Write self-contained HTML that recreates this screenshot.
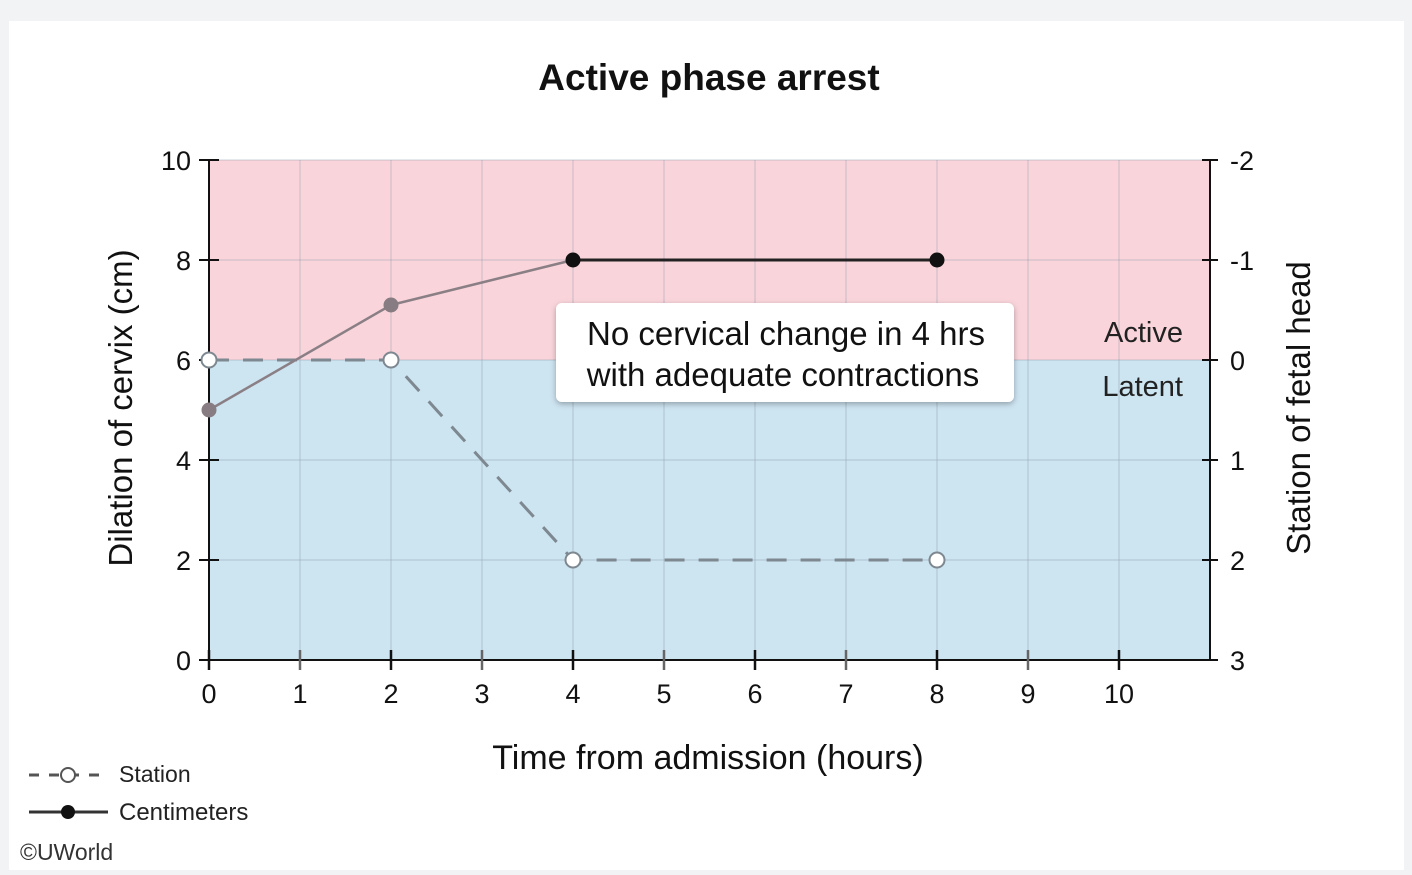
<!DOCTYPE html>
<html><head><meta charset="utf-8"><style>
body{margin:0;background:#f2f3f5;font-family:"Liberation Sans",Arial,sans-serif}
svg{display:block}
</style></head><body>
<svg width="1412" height="875">
<defs><filter id="sh" x="-10%" y="-20%" width="120%" height="150%"><feDropShadow dx="0" dy="2" stdDeviation="3" flood-opacity="0.3"/></filter></defs>
<rect x="9" y="21" width="1395" height="849" fill="#fff"/>
<text x="709" y="90" text-anchor="middle" font-size="37" font-weight="bold" fill="#111">Active phase arrest</text>
<g id="plot"></g>
<text transform="translate(132,408) rotate(-90)" text-anchor="middle" font-size="33" fill="#111">Dilation of cervix (cm)</text>
<text transform="translate(1310,408) rotate(-90)" text-anchor="middle" font-size="33" fill="#111">Station of fetal head</text>
<text x="708" y="769" text-anchor="middle" font-size="34" fill="#111">Time from admission (hours)</text>
<text x="1183" y="342" text-anchor="end" font-size="29" fill="#222">Active</text>
<text x="1183" y="396" text-anchor="end" font-size="29" fill="#222">Latent</text>
<g>
<rect x="556" y="303" width="458" height="99" rx="6" fill="#fff" filter="url(#sh)"/>
<text x="786" y="345" text-anchor="middle" font-size="33" fill="#111">No cervical change in 4 hrs</text>
<text x="783" y="386" text-anchor="middle" font-size="33" fill="#111">with adequate contractions</text>
</g>
<g>
<line x1="29" y1="775" x2="108" y2="775" stroke="#555" stroke-width="3" stroke-dasharray="10,10"/>
<circle cx="68" cy="775" r="7" fill="#fff" stroke="#555" stroke-width="2"/>
<text x="119" y="782" font-size="23" fill="#222">Station</text>
</g>
<g>
<line x1="29" y1="812" x2="108" y2="812" stroke="#333" stroke-width="3"/>
<circle cx="68" cy="812" r="7" fill="#111"/>
<text x="119" y="820" font-size="24" fill="#222">Centimeters</text>
</g>
<text x="20" y="860" font-size="23" fill="#333">©UWorld</text>
</svg>
<script>
const hours=[0,2,4,8];
const dilation=[5,7.1,8,8];
const station=[0,0,2,2];
const xTicks=[0,1,2,3,4,5,6,7,8,9,10];
const yTicks=[0,2,4,6,8,10];
const y2Ticks=[-2,-1,0,1,2,3];
const NS='http://www.w3.org/2000/svg';
const X=h=>209+h*91, Y=v=>660-v*50, Y2=s=>160+(s+2)*100;
const g=document.getElementById('plot');
function mk(t,a,p){const e=document.createElementNS(NS,t);for(const k in a)e.setAttribute(k,a[k]);(p||g).appendChild(e);return e;}
let e;
e=mk('rect',{x:X(0),y:Y(10),width:X(11)-X(0),height:Y(6)-Y(10),fill:'#f9d5db'});


e=mk('rect',{x:X(0),y:Y(6),width:X(11)-X(0),height:Y(0)-Y(6),fill:'#cde4f1'});


for(let h=1;h<=10;h++){e=mk('line',{x1:X(h),x2:X(h),y1:Y(10),y2:Y(0),stroke:'#8a98a8','stroke-opacity':0.3,'stroke-width':1.5});

}
for(const v of yTicks){e=mk('line',{x1:X(0),x2:X(11),y1:Y(v),y2:Y(v),stroke:'#8a98a8','stroke-opacity':0.3,'stroke-width':1.5});

}
mk('line',{x1:X(0),x2:X(0),y1:Y(10),y2:Y(0)+8,stroke:'#111','stroke-width':2});
mk('line',{x1:X(0),x2:X(11),y1:Y(0),y2:Y(0),stroke:'#111','stroke-width':2});
mk('line',{x1:X(11),x2:X(11),y1:Y(10),y2:Y(0),stroke:'#111','stroke-width':2});
for(const v of yTicks){mk('line',{x1:X(0)-10,x2:X(0)+10,y1:Y(v),y2:Y(v),stroke:'#111','stroke-width':2});
e=mk('text',{x:X(0)-18,y:Y(v)+10,'text-anchor':'end','font-size':27,fill:'#111'});e.textContent=v;

}
for(const s of y2Ticks){mk('line',{x1:X(11)-8,x2:X(11)+8,y1:Y2(s),y2:Y2(s),stroke:'#111','stroke-width':2});
e=mk('text',{x:X(11)+20,y:Y2(s)+10,'font-size':27,fill:'#111'});e.textContent=s;

}
for(const h of xTicks){mk('line',{x1:X(h),x2:X(h),y1:Y(0)-10,y2:Y(0)+10,stroke:h%2?'#666':'#111','stroke-width':2.5});
e=mk('text',{x:X(h),y:Y(0)+43,'text-anchor':'middle','font-size':27,fill:'#111'});e.textContent=h;

}
e=mk('polyline',{points:hours.map((h,i)=>X(h)+','+Y2(station[i])).join(' '),fill:'none',stroke:'#7d8890','stroke-width':3,'stroke-dasharray':'20,14'});


for(let i=0;i<hours.length-1;i++){const dark=i>=2;
e=mk('line',{x1:X(hours[i]),y1:Y(dilation[i]),x2:X(hours[i+1]),y2:Y(dilation[i+1]),stroke:dark?'#222':'#8a7f85','stroke-width':dark?3:2.5});

}
hours.forEach((h,i)=>{e=mk('circle',{cx:X(h),cy:Y2(station[i]),r:7.5,fill:'#fff',stroke:'#7d8890','stroke-width':2});

});
hours.forEach((h,i)=>{e=mk('circle',{cx:X(h),cy:Y(dilation[i]),r:7.5,fill:h>=4?'#111':'#877c82'});

});
</script>
</body></html>
